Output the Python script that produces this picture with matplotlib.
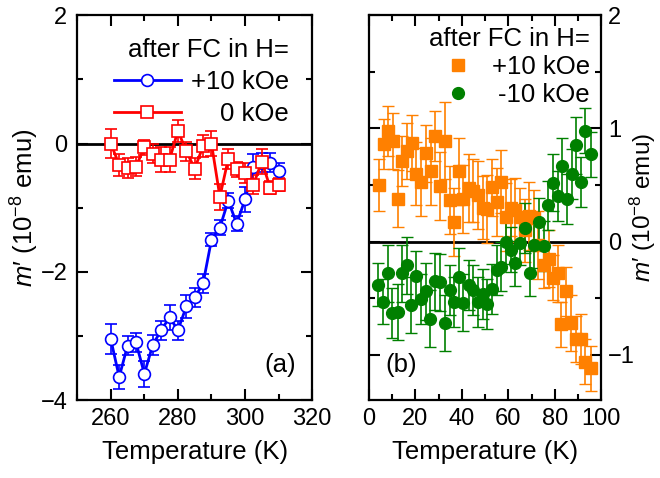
import matplotlib
matplotlib.use("Agg")
import matplotlib.pyplot as plt
import numpy as np

plt.rcParams['font.family'] = ['Liberation Sans', 'DejaVu Sans']
plt.rcParams['mathtext.fontset'] = 'custom'
plt.rcParams['mathtext.rm'] = 'Liberation Sans'
plt.rcParams['mathtext.it'] = 'Liberation Sans:italic'

# panel (a): high temperature
T_a = [260, 262.5, 265, 267.5, 270, 272.5, 275, 277.5, 280, 282.5, 285,
       287.5, 290, 292.5, 295, 297.5, 300, 302.5, 305, 307.5, 310]
m_p10 = [-3.05, -3.64, -3.15, -3.10, -3.59, -3.14, -2.91, -2.71, -2.91, -2.54, -2.40,
         -2.18, -1.50, -1.31, -0.89, -1.25, -0.87, -0.37, -0.30, -0.30, -0.43]
e_p10 = [0.23, 0.18, 0.15, 0.15, 0.2, 0.15, 0.15, 0.2, 0.15, 0.18, 0.15,
         0.15, 0.1, 0.12, 0.12, 0.12, 0.2, 0.2, 0.15, 0.15, 0.12]
m_0 = [0.0, -0.33, -0.38, -0.36, -0.06, -0.16, -0.25, -0.25, 0.20, -0.12, -0.39,
       -0.04, 0.0, -0.83, -0.24, -0.40, -0.46, -0.64, -0.28, -0.69, -0.64]
e_0 = [0.22, 0.17, 0.15, 0.15, 0.12, 0.15, 0.2, 0.2, 0.17, 0.15, 0.17,
       0.17, 0.2, 0.2, 0.15, 0.12, 0.15, 0.15, 0.2, 0.1, 0.1]

# panel (b): low temperature
T_b = [4.3, 6.4, 8.3, 10.4, 12.6, 14.3, 16.4, 18.6, 20.4, 22.6, 24.6, 26.7, 28.6,
       30.7, 32.6, 34.7, 36.7, 38.9, 40.7, 42.9, 45, 46.9, 48.9, 51, 52.9, 55,
       56.9, 59, 61.1, 62.9, 65, 67.1, 69, 71.1, 72.9, 75.3, 77.4, 79.3, 81.4,
       82.6, 85, 87.1, 89.3, 91.4, 93.1, 95.4]
m_b_p10 = [0.50, 0.86, 0.98, 0.89, 0.38, 0.71, 0.80, 0.87, 0.60, 0.53, 0.78, 0.62, 0.93,
           0.49, 0.89, 0.37, 0.17, 0.62, 0.38, 0.47, 0.45, 0.41, 0.30, 0.29, 0.48, 0.35,
           0.53, 0.22, 0.30, 0.28, 0.22, 0.10, 0.23, 0.21, -0.03, -0.21, -0.15, -0.32, -0.28,
           -0.73, -0.44, -0.72, -0.86, -0.86, -1.06, -1.12]
e_b_p10 = [0.23, 0.22, 0.22, 0.25, 0.25, 0.22, 0.25, 0.25, 0.28, 0.3, 0.25, 0.3, 0.22,
           0.3, 0.34, 0.3, 0.3, 0.3, 0.3, 0.3, 0.28, 0.3, 0.28, 0.3, 0.25, 0.3,
           0.28, 0.3, 0.25, 0.28, 0.25, 0.28, 0.3, 0.25, 0.3, 0.2, 0.25, 0.2, 0.25,
           0.2, 0.22, 0.25, 0.2, 0.22, 0.2, 0.2]
T_b_m10 = [4, 6.1, 8.3, 10, 12.6, 14.3, 16.4, 18.3, 20.4, 22.6, 24.6, 26.4, 28.6,
           30.7, 32.6, 34.7, 36.7, 38.9, 40.7, 42.9, 45, 46.9, 48.9, 51, 52.9, 55,
           56.9, 59, 61.1, 62.9, 65, 67.1, 69.3, 71.1, 73.3, 75.3, 76.9, 79.3, 81.4,
           83.1, 85.4, 87.4, 89.3, 91.4, 93.1, 95.4]
m_b_m10 = [-0.38, -0.53, -0.28, -0.63, -0.62, -0.28, -0.21, -0.56, -0.30, -0.51, -0.44, -0.68, -0.35,
           -0.36, -0.72, -0.43, -0.53, -0.31, -0.54, -0.38, -0.43, -0.53, -0.46, -0.55, -0.42, -0.25,
           -0.22, 0.0, -0.07, -0.19, -0.01, 0.12, -0.28, -0.03, 0.17, -0.04, 0.32, 0.52, 0.40,
           0.67, 0.38, 0.60, 0.85, 0.53, 0.98, 0.77]
e_b_m10 = [0.19, 0.2, 0.25, 0.22, 0.25, 0.25, 0.25, 0.25, 0.22, 0.22, 0.25, 0.25, 0.25,
           0.25, 0.25, 0.22, 0.22, 0.25, 0.25, 0.22, 0.22, 0.22, 0.22, 0.22, 0.22, 0.22,
           0.22, 0.2, 0.2, 0.2, 0.2, 0.22, 0.2, 0.2, 0.22, 0.22, 0.22, 0.25, 0.22,
           0.25, 0.22, 0.22, 0.25, 0.22, 0.2, 0.2]

blue = '#0000ff'
red = '#ff0000'
orange = '#ff8000'
green = '#008000'
ylab = "$m$\u2032 (10$^{-8}$ emu)"
fs = 18.5

fig = plt.figure(figsize=(6.6, 4.78), dpi=100)
ax1 = fig.add_axes([0.117, 0.163, 0.356, 0.805])
ax2 = fig.add_axes([0.559, 0.163, 0.352, 0.805])

def style(ax):
    for s in ax.spines.values():
        s.set_linewidth(1.6)
    ax.tick_params(which='both', direction='in', top=True, right=True, width=1.5, labelsize=17)
    ax.tick_params(which='major', length=8)
    ax.tick_params(which='minor', length=4)
    ax.tick_params(axis='x', pad=6)

# (a)
ax1.axhline(0, color='k', lw=2)
c1 = ax1.errorbar(T_a, m_p10, yerr=e_p10, color=blue, lw=2, elinewidth=1.2, capsize=4,
                  marker='o', ms=8.5, mfc='white', mec=blue, mew=1.2)
c2 = ax1.errorbar(T_a, m_0, yerr=e_0, color=red, lw=2, elinewidth=1.2, capsize=4,
                  marker='s', ms=8, mfc='white', mec=red, mew=1.2)
ax1.set_xlim(250, 320)
ax1.set_ylim(-4, 2)
ax1.set_xticks([260, 280, 300, 320])
ax1.set_xticks([250, 270, 290, 310], minor=True)
ax1.set_yticks([-4, -2, 0, 2])
ax1.set_yticks([-3, -1, 1], minor=True)
style(ax1)
ax1.tick_params(axis='y', pad=7)
ax1.set_xlabel('Temperature (K)', fontsize=fs, labelpad=7)
ax1.set_ylabel(ylab, fontsize=fs, labelpad=0)
ax1.text(0.93, 0.06, '(a)', transform=ax1.transAxes, ha='right', va='bottom', fontsize=fs)

leg1 = ax1.legend([c1[0], c2[0]], ['+10 kOe', '0 kOe'], loc='upper right', frameon=False,
                  fontsize=fs, title='after FC in H=', title_fontsize=fs, alignment='right',
                  handlelength=2.6, handletextpad=0.4, borderaxespad=0.5,
                  labelspacing=0.3)

# (b)
ax2.axhline(0, color='k', lw=2)
c3 = ax2.errorbar(T_b, m_b_p10, yerr=e_b_p10, color=orange, ls='none', elinewidth=1.2, capsize=4,
                  marker='s', ms=8, mec=orange)
c4 = ax2.errorbar(T_b_m10, m_b_m10, yerr=e_b_m10, color=green, ls='none', elinewidth=1.2, capsize=4,
                  marker='o', ms=8.5, mec=green)
ax2.set_xlim(0, 100)
ax2.set_ylim(-1.4, 2)
ax2.set_xticks([0, 20, 40, 60, 80, 100])
ax2.set_xticks([10, 30, 50, 70, 90], minor=True)
ax2.set_yticks([-1, 0, 1, 2])
ax2.set_yticks([-0.5, 0.5, 1.5], minor=True)
style(ax2)
ax2.tick_params(axis='y', labelleft=False, labelright=True, pad=5)
ax2.yaxis.set_label_position('right')
ax2.set_xlabel('Temperature (K)', fontsize=fs, labelpad=7)
ax2.set_ylabel(ylab, fontsize=17.5, labelpad=-5)
ax2.text(0.07, 0.06, '(b)', transform=ax2.transAxes, ha='left', va='bottom', fontsize=fs)

leg2 = ax2.legend([c3[0], c4[0]], ['+10 kOe', '-10 kOe'], loc='upper right', frameon=False,
                  fontsize=fs, title='after FC in H=', title_fontsize=fs, alignment='right',
                  handlelength=1.0, handletextpad=0.8, borderaxespad=0.05,
                  labelspacing=0.15)

# right-align the legend labels
fig.canvas.draw()
renderer = fig.canvas.get_renderer()
for leg in (leg1, leg2):
    widths = [t.get_window_extent(renderer).width for t in leg.get_texts()]
    wmax = max(widths)
    for t, w in zip(leg.get_texts(), widths):
        t.set_position((wmax - w, 0))

fig.savefig('out.png', dpi=100)
